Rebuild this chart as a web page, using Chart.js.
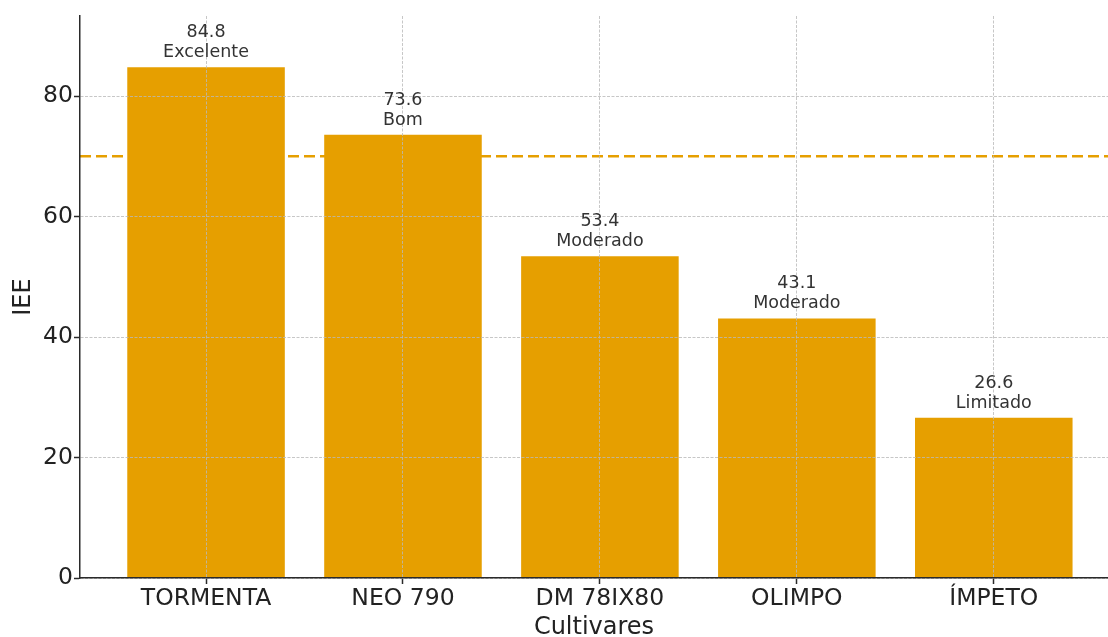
<!DOCTYPE html>
<html>
<head>
<meta charset="utf-8">
<script src="https://cdn.jsdelivr.net/npm/chart.js@4.4.1/dist/chart.umd.min.js"></script>
<style>
  html, body { margin: 0; padding: 0; background: #fff; overflow: hidden; }
  #wrap { width: 1108px; height: 637px; position: relative; }
</style>
</head>
<body>
<div id="wrap"><canvas id="c" width="1108" height="637"></canvas></div>
<script>
const categories = ["TORMENTA", "NEO 790", "DM 78IX80", "OLIMPO", "ÍMPETO"];
const ieeValues = [84.8, 73.6, 53.4, 43.1, 26.6];
const ratings = ["Excelente", "Bom", "Moderado", "Moderado", "Limitado"];
const threshold = 70;
const yTicks = [0, 20, 40, 60, 80];
const xLabel = "Cultivares";
const yLabel = "IEE";

const X_MIN = -0.64, X_MAX = 4.58, Y_MAX = 93.3;
const FONT = "'DejaVu Sans', sans-serif";
const ORANGE = "#E69F00";

const barData = ieeValues.map((v, i) => ({ x: i, y: v }));
const lineData = [{ x: X_MIN, y: threshold }, { x: X_MAX, y: threshold }];

const labelPlugin = {
  id: 'barLabels',
  afterDraw(chart) {
    const ctx = chart.ctx;
    const meta = chart.getDatasetMeta(0);
    ctx.save();
    ctx.font = "17.5px " + FONT;
    ctx.fillStyle = "#333333";
    ctx.textAlign = "center";
    ctx.textBaseline = "alphabetic";
    meta.data.forEach((el, i) => {
      ctx.fillText(ratings[i], el.x, el.y - 10);
      ctx.fillText(ieeValues[i].toFixed(1), el.x, el.y - 30);
    });
    ctx.restore();
  }
};

const gridOpts = {
  color: 'rgba(185,185,185,0.8)',
  lineWidth: 1,
  tickLength: 6,
  tickColor: '#2a2a2a',
  tickWidth: 1.5,
  offset: false,
  z: 1
};

new Chart(document.getElementById('c'), {
  data: {
    datasets: [
      {
        type: 'bar',
        data: barData,
        backgroundColor: ORANGE,
        borderWidth: 0,
        barPercentage: 0.8,
        categoryPercentage: 1.0,
        order: 1
      },
      {
        type: 'line',
        data: lineData,
        borderColor: ORANGE,
        borderWidth: 2.5,
        borderDash: [11, 5],
        pointRadius: 0,
        fill: false,
        order: 0
      }
    ]
  },
  options: {
    responsive: false,
    animation: false,
    layout: { padding: { top: 16, right: 0, bottom: 0, left: 0 } },
    plugins: { legend: { display: false }, tooltip: { enabled: false } },
    scales: {
      x: {
        type: 'linear',
        min: X_MIN,
        max: X_MAX,
        offset: false,
        afterBuildTicks: s => { s.ticks = categories.map((_, i) => ({ value: i })); },
        afterFit: s => { s.height = 59; },
        ticks: {
          callback: (v) => categories[v],
          font: { family: FONT, size: 23.5 },
          color: '#222222',
          padding: 1,
          autoSkip: false,
          maxRotation: 0,
          z: 2
        },
        grid: gridOpts,
        border: { display: true, color: '#2a2a2a', width: 1.5, dash: [3, 1.5], z: 2 },
        title: {
          display: true,
          text: xLabel,
          font: { family: FONT, size: 24, lineHeight: 0.75 },
          color: '#222222',
          padding: { top: 0, bottom: 0 }
        }
      },
      y: {
        type: 'linear',
        min: 0,
        max: Y_MAX,
        afterBuildTicks: s => { s.ticks = yTicks.map(v => ({ value: v })); },
        afterFit: s => { s.width = 80; },
        ticks: {
          font: { family: FONT, size: 23.5 },
          color: '#222222',
          padding: 1,
          z: 2
        },
        grid: gridOpts,
        border: { display: true, color: '#2a2a2a', width: 1.5, dash: [3, 1.5], z: 2 },
        title: {
          display: true,
          text: yLabel,
          font: { family: FONT, size: 24, lineHeight: 1.0 },
          color: '#222222',
          padding: { top: 12, bottom: 0 }
        }
      }
    }
  },
  plugins: [labelPlugin]
});
</script>
</body>
</html>
